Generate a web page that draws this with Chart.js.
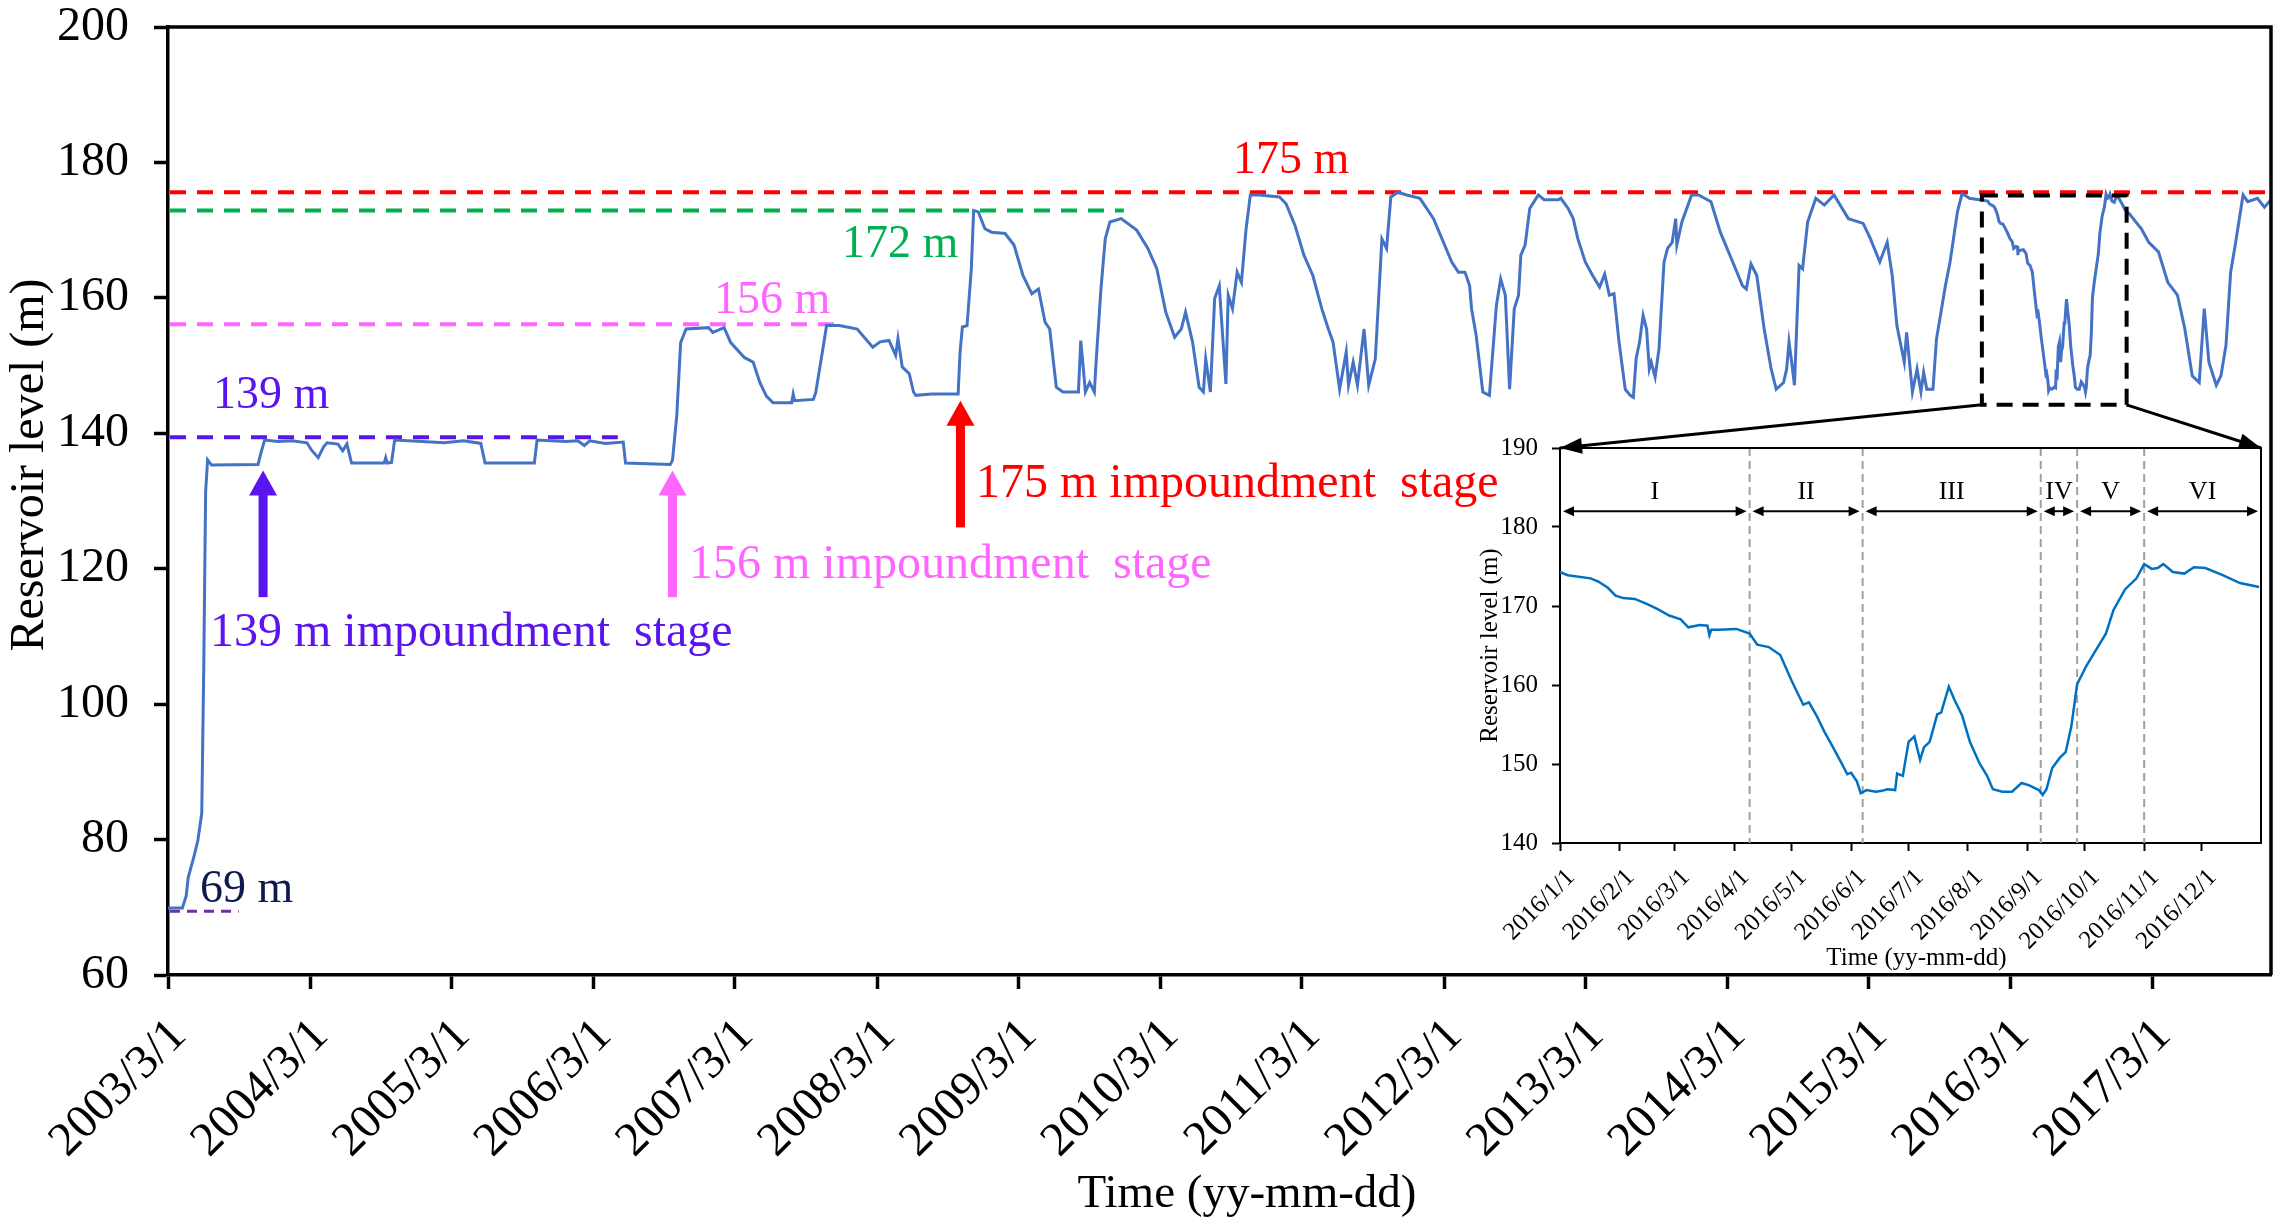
<!DOCTYPE html>
<html>
<head>
<meta charset="utf-8">
<title>Reservoir level</title>
<script src="https://cdn.jsdelivr.net/npm/chart.js@4.4.1/dist/chart.umd.min.js"></script>
<style>
  html, body { margin: 0; padding: 0; background: #fff; overflow: hidden; }
  #wrap { position: relative; width: 2278px; height: 1230px; }
  #main { position: absolute; left: 0; top: 0; }
  #inset { position: absolute; left: 1440px; top: 420px; }
</style>
</head>
<body>
<div id="wrap">
  <canvas id="main" width="2278" height="1230"></canvas>
  <canvas id="inset" width="830" height="560"></canvas>
</div>
<script>
// ---- data ----

const xTickLabels = ['2003/3/1', '2004/3/1', '2005/3/1', '2006/3/1', '2007/3/1',
  '2008/3/1', '2009/3/1', '2010/3/1', '2011/3/1', '2012/3/1', '2013/3/1',
  '2014/3/1', '2015/3/1', '2016/3/1', '2017/3/1'];
const insetTickLabels = ['2016/1/1', '2016/2/1', '2016/3/1', '2016/4/1', '2016/5/1',
  '2016/6/1', '2016/7/1', '2016/8/1', '2016/9/1', '2016/10/1', '2016/11/1', '2016/12/1'];

// 2003 impoundment and the 135-139 m stage
const earlyDates = [
  '2003-03-01', '2003-04-07', '2003-04-17', '2003-04-22', '2003-05-07', '2003-05-17', '2003-05-27', '2003-06-01', '2003-06-06', '2003-06-11',
  '2003-06-21', '2003-10-19', '2003-10-27', '2003-11-05', '2003-12-10', '2004-01-15', '2004-02-22', '2004-03-05', '2004-03-22', '2004-04-05',
  '2004-04-14', '2004-05-12', '2004-05-24', '2004-06-04', '2004-06-10', '2004-06-16', '2004-09-08', '2004-09-12', '2004-09-16', '2004-09-27',
  '2004-10-05', '2004-12-15', '2005-02-10', '2005-04-01', '2005-05-15', '2005-05-26', '2005-09-30', '2005-10-07', '2005-12-20', '2006-01-20',
  '2006-02-06', '2006-02-20', '2006-04-01', '2006-05-17', '2006-05-23', '2006-09-15'];
const earlyLevels = [
  69.9, 69.9, 71.7, 74.4, 77.5, 79.9, 83.9, 104.9, 131.4, 136.1,
  135.3, 135.4, 137.2, 139.0, 138.8, 138.9, 138.6, 137.5, 136.4, 138.0,
  138.6, 138.4, 137.4, 138.4, 137.0, 135.6, 135.6, 136.4, 135.6, 135.7,
  139.0, 138.8, 138.6, 138.9, 138.5, 135.6, 135.6, 139.0, 138.8, 138.9,
  138.2, 138.9, 138.5, 138.7, 135.6, 135.4];

// 156 m stage
const stage156Dates = [
  '2006-09-21', '2006-10-02', '2006-10-12', '2006-10-26', '2006-12-23', '2007-01-03', '2007-02-01', '2007-02-18', '2007-03-25', '2007-04-17',
  '2007-05-04', '2007-05-21', '2007-06-07', '2007-07-25', '2007-07-29', '2007-08-02', '2007-09-19', '2007-09-25', '2007-10-15', '2007-10-23',
  '2007-11-25', '2008-01-10', '2008-02-19', '2008-03-09', '2008-04-01', '2008-04-18', '2008-04-24', '2008-05-05', '2008-05-23', '2008-06-03',
  '2008-06-09', '2008-07-20', '2008-09-26'];
const stage156Levels = [
  136.0, 142.6, 153.4, 155.4, 155.6, 154.9, 155.6, 153.4, 151.2, 150.5,
  147.5, 145.5, 144.5, 144.5, 145.8, 144.8, 145.0, 146.0, 153.0, 155.9,
  155.9, 155.4, 152.7, 153.5, 153.7, 151.5, 154.0, 149.8, 148.8, 146.1,
  145.6, 145.8, 145.8];

// 175 m stage, 2008-2012
const cycleDatesA = [
  '2008-10-01', '2008-10-07', '2008-10-19', '2008-10-30', '2008-11-05', '2008-11-17', '2008-12-04', '2008-12-21', '2009-01-25', '2009-02-17',
  '2009-03-12', '2009-04-04', '2009-04-21', '2009-05-08', '2009-05-20', '2009-06-06', '2009-06-23', '2009-08-02', '2009-08-08', '2009-08-20',
  '2009-08-31', '2009-09-12', '2009-09-17', '2009-09-29', '2009-10-10', '2009-10-22', '2009-11-20', '2009-12-30', '2010-01-28', '2010-02-20',
  '2010-03-15', '2010-04-07', '2010-04-24', '2010-05-05', '2010-05-23', '2010-06-09', '2010-06-20', '2010-06-26', '2010-07-08', '2010-07-19',
  '2010-07-31', '2010-08-05', '2010-08-17', '2010-08-23', '2010-09-03', '2010-09-15', '2010-09-26', '2010-10-08', '2010-10-19', '2010-11-11',
  '2011-01-02', '2011-01-19', '2011-02-11', '2011-03-06', '2011-03-29', '2011-04-21', '2011-05-08', '2011-05-20', '2011-06-06', '2011-06-23',
  '2011-06-29', '2011-07-11', '2011-07-22', '2011-08-08', '2011-08-20', '2011-09-06', '2011-09-23', '2011-10-05', '2011-10-16', '2011-11-03',
  '2011-11-26', '2011-12-30', '2012-02-03', '2012-03-21', '2012-04-07', '2012-04-24', '2012-05-06', '2012-05-11', '2012-05-23', '2012-06-09',
  '2012-06-26', '2012-07-14', '2012-07-25', '2012-08-06', '2012-08-17', '2012-08-29', '2012-09-09', '2012-09-15', '2012-09-26', '2012-10-08'];
const cycleLevelsA = [
  152.0, 155.7, 155.9, 164.3, 172.9, 172.7, 170.2, 169.7, 169.5, 167.8,
  163.3, 160.6, 161.3, 156.4, 155.4, 146.8, 146.1, 146.1, 153.7, 146.1,
  147.5, 146.1, 151.0, 161.3, 168.7, 171.2, 171.7, 170.0, 167.3, 164.3,
  157.9, 154.2, 155.4, 157.9, 153.5, 146.8, 146.1, 151.0, 146.1, 159.9,
  161.8, 157.4, 147.3, 160.4, 158.4, 163.8, 162.3, 170.2, 175.2, 175.2,
  174.9, 173.9, 170.7, 166.3, 163.3, 158.4, 155.4, 153.5, 146.5, 152.0,
  147.1, 150.5, 147.1, 155.4, 147.1, 151.0, 168.7, 167.3, 174.9, 175.6,
  175.2, 174.7, 171.7, 165.3, 163.8, 163.8, 161.8, 158.4, 154.4, 146.1,
  145.6, 158.9, 162.8, 160.4, 146.5, 158.4, 160.4, 166.3, 167.8, 173.2];

// 175 m stage, 2012-2015
const cycleDatesB = [
  '2012-10-30', '2012-11-14', '2012-12-21', '2012-12-27', '2013-01-15', '2013-01-28', '2013-02-09', '2013-02-28', '2013-03-19', '2013-04-06',
  '2013-04-19', '2013-05-01', '2013-05-13', '2013-05-26', '2013-06-11', '2013-06-24', '2013-07-02', '2013-07-09', '2013-07-18', '2013-07-27',
  '2013-08-05', '2013-08-12', '2013-08-17', '2013-08-27', '2013-09-06', '2013-09-19', '2013-09-28', '2013-10-10', '2013-10-19', '2013-10-22',
  '2013-11-04', '2013-11-29', '2013-12-17', '2014-01-18', '2014-02-11', '2014-03-15', '2014-04-09', '2014-04-19', '2014-05-01', '2014-05-16',
  '2014-06-04', '2014-06-22', '2014-07-05', '2014-07-24', '2014-08-01', '2014-08-07', '2014-08-14', '2014-08-21', '2014-09-02', '2014-09-11',
  '2014-09-24', '2014-10-15', '2014-11-06', '2014-12-01', '2015-01-07', '2015-02-14', '2015-03-05', '2015-03-29', '2015-04-17', '2015-04-30',
  '2015-05-12', '2015-05-31', '2015-06-06', '2015-06-21', '2015-07-03', '2015-07-13', '2015-07-20', '2015-07-28', '2015-08-13', '2015-08-22',
  '2015-09-14', '2015-09-26', '2015-10-15', '2015-10-27', '2015-11-15', '2015-12-10'];
const cycleLevelsB = [
  175.2, 174.5, 174.5, 174.7, 173.2, 171.7, 168.7, 165.3, 163.3, 161.6,
  163.5, 160.4, 160.6, 153.5, 146.5, 145.6, 145.3, 151.0, 153.5, 157.4,
  155.4, 149.5, 150.5, 148.3, 152.5, 165.3, 167.3, 168.2, 171.7, 167.8,
  171.2, 175.2, 175.2, 174.2, 169.7, 165.3, 161.8, 161.3, 165.0, 163.3,
  155.4, 149.5, 146.5, 147.5, 149.5, 153.5, 150.5, 147.1, 164.8, 164.3,
  171.2, 174.7, 173.7, 175.2, 171.7, 171.0, 168.7, 165.3, 168.2, 163.3,
  155.9, 150.5, 154.9, 146.1, 149.5, 146.1, 149.0, 146.5, 146.5, 153.9,
  161.8, 165.3, 172.7, 175.4, 174.7, 174.5];

// 2016, the year shown in the inset
const zoomDates = [
  '2016-01-01', '2016-01-05', '2016-01-17', '2016-01-21', '2016-01-26', '2016-01-30', '2016-02-03', '2016-02-09', '2016-02-15', '2016-02-21',
  '2016-02-27', '2016-03-04', '2016-03-08', '2016-03-14', '2016-03-18', '2016-03-19', '2016-03-20', '2016-03-24', '2016-04-02', '2016-04-09',
  '2016-04-13', '2016-04-19', '2016-04-25', '2016-05-01', '2016-05-07', '2016-05-10', '2016-05-14', '2016-05-18', '2016-05-21', '2016-05-27',
  '2016-05-30', '2016-06-01', '2016-06-04', '2016-06-06', '2016-06-09', '2016-06-14', '2016-06-17', '2016-06-20', '2016-06-24', '2016-06-25',
  '2016-06-28', '2016-07-01', '2016-07-04', '2016-07-07', '2016-07-09', '2016-07-12', '2016-07-16', '2016-07-18', '2016-07-22', '2016-07-25',
  '2016-07-29', '2016-08-02', '2016-08-07', '2016-08-11', '2016-08-14', '2016-08-19', '2016-08-24', '2016-08-29', '2016-09-02', '2016-09-07',
  '2016-09-09', '2016-09-11', '2016-09-14', '2016-09-18', '2016-09-21', '2016-09-24', '2016-09-27', '2016-10-02', '2016-10-06', '2016-10-12',
  '2016-10-16', '2016-10-22', '2016-10-28', '2016-11-01', '2016-11-05', '2016-11-08', '2016-11-11', '2016-11-16', '2016-11-22', '2016-11-27',
  '2016-12-03', '2016-12-12', '2016-12-21', '2016-12-31'];
const zoomLevels = [
  174.3, 173.9, 173.5, 173.1, 172.3, 171.3, 171.0, 170.9, 170.3, 169.6,
  168.8, 168.3, 167.3, 167.6, 167.5, 166.3, 167.0, 167.0, 167.1, 166.5,
  165.1, 164.8, 163.8, 160.5, 157.5, 157.8, 156.1, 154.1, 152.8, 150.1,
  148.7, 148.9, 147.8, 146.3, 146.7, 146.5, 146.6, 146.8, 146.7, 148.8,
  148.5, 152.8, 153.5, 150.5, 152.1, 152.8, 156.3, 156.5, 159.8, 158.1,
  156.1, 152.8, 150.1, 148.5, 146.8, 146.5, 146.5, 147.6, 147.3, 146.7,
  146.1, 146.8, 149.5, 150.8, 151.5, 154.8, 160.1, 162.5, 164.1, 166.5,
  169.5, 172.1, 173.5, 175.3, 174.7, 174.8, 175.3, 174.3, 174.1, 174.9,
  174.8, 173.9, 172.9, 172.4];

// 2017
const lateDates = [
  '2017-01-31', '2017-02-19', '2017-03-16', '2017-04-09', '2017-05-04', '2017-05-23', '2017-06-11', '2017-06-29', '2017-07-12', '2017-07-24',
  '2017-08-12', '2017-08-24', '2017-09-06', '2017-09-18', '2017-10-01', '2017-10-20', '2017-11-01', '2017-11-26', '2017-12-14', '2017-12-31'];
const lateLevels = [
  170.2, 168.2, 166.8, 162.3, 160.4, 155.4, 148.5, 147.5, 158.4, 150.5,
  147.1, 148.5, 153.0, 163.8, 168.2, 175.2, 174.2, 174.7, 173.4, 174.5];

// reference levels (dashed lines) and how far they run
const refNames = ['175 m', '172 m', '156 m', '139 m', '69 m'];
const refLevels = [175.6, 172.9, 156.1, 139.4, 69.4];
const refEnds = ['2017-12-31', '2009-11-27', '2007-11-23', '2006-05-03', '2003-08-30'];

// periods in the inset
const periodNames = ['I', 'II', 'III', 'IV', 'V', 'VI'];
const periodBounds = ['2016-01-01', '2016-04-09', '2016-06-07', '2016-09-08', '2016-09-27', '2016-11-01', '2016-12-31'];

// ---- helpers ----

const FONT = '"Liberation Serif", "Times New Roman", serif';
Chart.defaults.font.family = FONT;
Chart.defaults.color = '#000';

function t(s) {
  const [y, m, d] = s.split(/[-\/]/).map(Number);
  return Date.UTC(y, m - 1, d);
}

function toPoints(dates, levels) {
  return dates.map((d, i) => ({ x: t(d), y: levels[i] }));
}

const mainSeries = [].concat(
  toPoints(earlyDates, earlyLevels),
  toPoints(stage156Dates, stage156Levels),
  toPoints(cycleDatesA, cycleLevelsA),
  toPoints(cycleDatesB, cycleLevelsB),
  toPoints(zoomDates, zoomLevels),
  toPoints(lateDates, lateLevels)
);
const zoomSeries = toPoints(zoomDates, zoomLevels);

const RED = '#ff0000', GREEN = '#00b050', PINK = '#ff66ff', PURPLE = '#5a14f0', NAVY = '#0c1a50';
const refColors = [RED, GREEN, PINK, PURPLE, '#7030a0'];

// where the inset canvas sits and its plot-area margins
const INSET = { x: 1440, y: 420, w: 830, h: 560, left: 120, top: 28, right: 9, bottom: 137 };

function arrowHead(ctx, x0, y0, x1, y1, len, half) {
  const a = Math.atan2(y1 - y0, x1 - x0);
  const c = Math.cos(a), s = Math.sin(a);
  ctx.beginPath();
  ctx.moveTo(x1, y1);
  ctx.lineTo(x1 - len * c + half * s, y1 - len * s - half * c);
  ctx.lineTo(x1 - len * c - half * s, y1 - len * s + half * c);
  ctx.closePath();
  ctx.fill();
}

function blockArrow(ctx, x, yTail, yTip, color) {
  const head = 25, halfHead = 14, halfShaft = 4.5;
  ctx.fillStyle = color;
  ctx.fillRect(x - halfShaft, yTip + head - 1, halfShaft * 2, yTail - yTip - head + 1);
  ctx.beginPath();
  ctx.moveTo(x, yTip);
  ctx.lineTo(x + halfHead, yTip + head);
  ctx.lineTo(x - halfHead, yTip + head);
  ctx.closePath();
  ctx.fill();
}

function text(ctx, str, x, y, color, size) {
  ctx.fillStyle = color;
  ctx.font = size + 'px ' + FONT;
  ctx.textAlign = 'left';
  ctx.textBaseline = 'alphabetic';
  ctx.fillText(str, x, y);
}

// ---- main chart decorations ----

const mainDecor = {
  id: 'mainDecor',
  beforeDatasetsDraw(chart) {
    const { ctx, chartArea: a, scales: { x, y } } = chart;
    ctx.save();
    refLevels.forEach((lv, i) => {
      const small = i === 4;
      ctx.strokeStyle = refColors[i];
      ctx.lineWidth = small ? 3 : 4;
      ctx.setLineDash(small ? [10, 7] : [16, 11]);
      ctx.beginPath();
      ctx.moveTo(a.left + 2, y.getPixelForValue(lv));
      ctx.lineTo(x.getPixelForValue(t(refEnds[i])), y.getPixelForValue(lv));
      ctx.stroke();
    });
    ctx.restore();
  },
  afterDraw(chart) {
    const { ctx, chartArea: a, scales: { x, y } } = chart;
    ctx.save();

    // top and right frame
    ctx.strokeStyle = '#000';
    ctx.lineWidth = 3.5;
    ctx.beginPath();
    ctx.moveTo(a.left, a.top);
    ctx.lineTo(a.right, a.top);
    ctx.lineTo(a.right, a.bottom);
    ctx.stroke();

    // stage arrows
    const X = d => x.getPixelForValue(t(d));
    const Y = v => y.getPixelForValue(v);
    blockArrow(ctx, X('2003-11-01'), Y(115.8), Y(134.5), PURPLE);
    blockArrow(ctx, X('2006-09-21'), Y(115.8), Y(134.5), PINK);
    blockArrow(ctx, X('2008-10-02'), Y(126.1), Y(144.8), RED);

    // labels
    text(ctx, refNames[0], 1233, 173, RED, 46);
    text(ctx, refNames[1], 842, 257, GREEN, 46);
    text(ctx, refNames[2], 714, 313, PINK, 46);
    text(ctx, refNames[3], 213, 408, PURPLE, 46);
    text(ctx, refNames[4], 200, 902, NAVY, 46);
    text(ctx, '175 m impoundment  stage', 976, 497, RED, 48);
    text(ctx, '156 m impoundment  stage', 689, 578, PINK, 48);
    text(ctx, '139 m impoundment  stage', 210, 646, PURPLE, 48);

    // dashed box around 2016 and the lines to the inset
    const bx0 = X('2015-12-17'), bx1 = X('2016-12-24');
    const by0 = Y(175.1), by1 = Y(144.2);
    ctx.strokeStyle = '#000';
    ctx.lineWidth = 4;
    ctx.setLineDash([16, 10]);
    ctx.strokeRect(bx0, by0, bx1 - bx0, by1 - by0);
    ctx.setLineDash([]);
    const cl = [INSET.x + INSET.left, INSET.y + INSET.top];
    const cr = [INSET.x + INSET.w - INSET.right, INSET.y + INSET.top];
    ctx.lineWidth = 3;
    ctx.fillStyle = '#000';
    ctx.beginPath(); ctx.moveTo(bx0, by1); ctx.lineTo(cl[0], cl[1]); ctx.stroke();
    ctx.beginPath(); ctx.moveTo(bx1, by1); ctx.lineTo(cr[0], cr[1]); ctx.stroke();
    arrowHead(ctx, bx0, by1, cl[0], cl[1], 22, 8);
    arrowHead(ctx, bx1, by1, cr[0], cr[1], 22, 8);

    // axis titles
    ctx.fillStyle = '#000';
    ctx.font = '48px ' + FONT;
    ctx.textAlign = 'center';
    ctx.textBaseline = 'middle';
    ctx.save();
    ctx.translate(30, 465);
    ctx.rotate(-Math.PI / 2);
    ctx.fillText('Reservoir level (m)', 0, 0);
    ctx.restore();
    ctx.font = '47px ' + FONT;
    ctx.textBaseline = 'alphabetic';
    ctx.fillText('Time (yy-mm-dd)', 1247, 1207);
    ctx.restore();
  }
};

// ---- inset decorations ----

const insetDecor = {
  id: 'insetDecor',
  beforeDatasetsDraw(chart) {
    const { ctx, chartArea: a, scales: { x } } = chart;
    ctx.save();
    ctx.strokeStyle = '#a0a0a0';
    ctx.lineWidth = 2;
    ctx.setLineDash([8, 5]);
    periodBounds.slice(1, -1).forEach(d => {
      const px = x.getPixelForValue(t(d));
      ctx.beginPath();
      ctx.moveTo(px, a.top);
      ctx.lineTo(px, a.bottom);
      ctx.stroke();
    });
    ctx.restore();
  },
  afterDraw(chart) {
    const { ctx, chartArea: a, scales: { x, y } } = chart;
    ctx.save();
    ctx.strokeStyle = '#000';
    ctx.lineWidth = 2;
    ctx.beginPath();
    ctx.moveTo(a.left, a.top);
    ctx.lineTo(a.right, a.top);
    ctx.lineTo(a.right, a.bottom);
    ctx.stroke();

    // period arrows and names
    const ay = y.getPixelForValue(182.0);
    const ly = y.getPixelForValue(183.6);
    ctx.fillStyle = '#000';
    ctx.font = '26px ' + FONT;
    ctx.textAlign = 'center';
    ctx.textBaseline = 'alphabetic';
    periodNames.forEach((name, i) => {
      let x0 = x.getPixelForValue(t(periodBounds[i]));
      let x1 = x.getPixelForValue(t(periodBounds[i + 1]));
      if (i === periodNames.length - 1) x1 = a.right;
      x0 += 3; x1 -= 3;
      ctx.lineWidth = 2;
      ctx.beginPath();
      ctx.moveTo(x0 + 6, ay);
      ctx.lineTo(x1 - 6, ay);
      ctx.stroke();
      arrowHead(ctx, x1, ay, x0, ay, 11, 5);
      arrowHead(ctx, x0, ay, x1, ay, 11, 5);
      ctx.fillText(name, (x0 + x1) / 2, ly);
    });

    // axis titles
    ctx.font = '25px ' + FONT;
    ctx.textBaseline = 'middle';
    ctx.save();
    ctx.translate(50, (a.top + a.bottom) / 2);
    ctx.rotate(-Math.PI / 2);
    ctx.fillText('Reservoir level (m)', 0, 0);
    ctx.restore();
    ctx.textBaseline = 'alphabetic';
    ctx.fillText('Time (yy-mm-dd)', (a.left + a.right) / 2 + 6, 545);
    ctx.restore();
  }
};

// ---- charts ----

new Chart(document.getElementById('main'), {
  type: 'line',
  data: {
    datasets: [{
      data: mainSeries,
      borderColor: '#4472c4',
      borderWidth: 3,
      pointRadius: 0,
      tension: 0,
      fill: false
    }]
  },
  options: {
    responsive: false,
    animation: false,
    devicePixelRatio: 1,
    layout: { padding: { top: 27, right: 7, left: 0, bottom: 0 } },
    plugins: { legend: { display: false }, tooltip: { enabled: false } },
    scales: {
      x: {
        type: 'linear',
        min: t('2003-03-01'),
        max: t('2017-12-31'),
        afterBuildTicks: s => { s.ticks = xTickLabels.map(l => ({ value: t(l) })); },
        afterFit: s => { s.height = 255; s.paddingLeft = 0; s.paddingRight = 0; },
        ticks: {
          autoSkip: false, minRotation: 45, maxRotation: 45,
          padding: 19, labelOffset: 11, color: '#000',
          font: { size: 48 },
          callback: (v, i) => xTickLabels[i]
        },
        grid: { drawOnChartArea: false, tickLength: 14, tickWidth: 3.5, tickColor: '#000' },
        border: { display: true, color: '#000', width: 3.5 }
      },
      y: {
        min: 60,
        max: 200,
        afterFit: s => { s.width = 168; s.paddingTop = 0; s.paddingBottom = 0; },
        ticks: { stepSize: 20, padding: 25, color: '#000', font: { size: 48, lineHeight: 1 } },
        grid: { drawOnChartArea: false, tickLength: 14, tickWidth: 3.5, tickColor: '#000' },
        border: { display: true, color: '#000', width: 3.5 }
      }
    }
  },
  plugins: [mainDecor]
});

new Chart(document.getElementById('inset'), {
  type: 'line',
  data: {
    datasets: [{
      data: zoomSeries,
      borderColor: '#0070c0',
      borderWidth: 2.5,
      pointRadius: 0,
      tension: 0,
      fill: false
    }]
  },
  options: {
    responsive: false,
    animation: false,
    devicePixelRatio: 1,
    layout: { padding: { top: INSET.top, right: INSET.right, left: 0, bottom: 0 } },
    plugins: { legend: { display: false }, tooltip: { enabled: false } },
    scales: {
      x: {
        type: 'linear',
        min: t('2016-01-01'),
        max: t('2017-01-01'),
        afterBuildTicks: s => { s.ticks = insetTickLabels.map(l => ({ value: t(l) })); },
        afterFit: s => { s.height = INSET.bottom; s.paddingLeft = 0; s.paddingRight = 0; },
        ticks: {
          autoSkip: false, minRotation: 45, maxRotation: 45,
          padding: 12, labelOffset: 11, color: '#000',
          font: { size: 25 },
          callback: (v, i) => insetTickLabels[i]
        },
        grid: { drawOnChartArea: false, tickLength: 8, tickWidth: 2, tickColor: '#000' },
        border: { display: true, color: '#000', width: 2 }
      },
      y: {
        min: 140,
        max: 190,
        afterFit: s => { s.width = INSET.left; s.paddingTop = 0; s.paddingBottom = 0; },
        ticks: { stepSize: 10, padding: 14, color: '#000', font: { size: 25, lineHeight: 1 } },
        grid: { drawOnChartArea: false, tickLength: 8, tickWidth: 2, tickColor: '#000' },
        border: { display: true, color: '#000', width: 2 }
      }
    }
  },
  plugins: [insetDecor]
});
</script>
</body>
</html>
